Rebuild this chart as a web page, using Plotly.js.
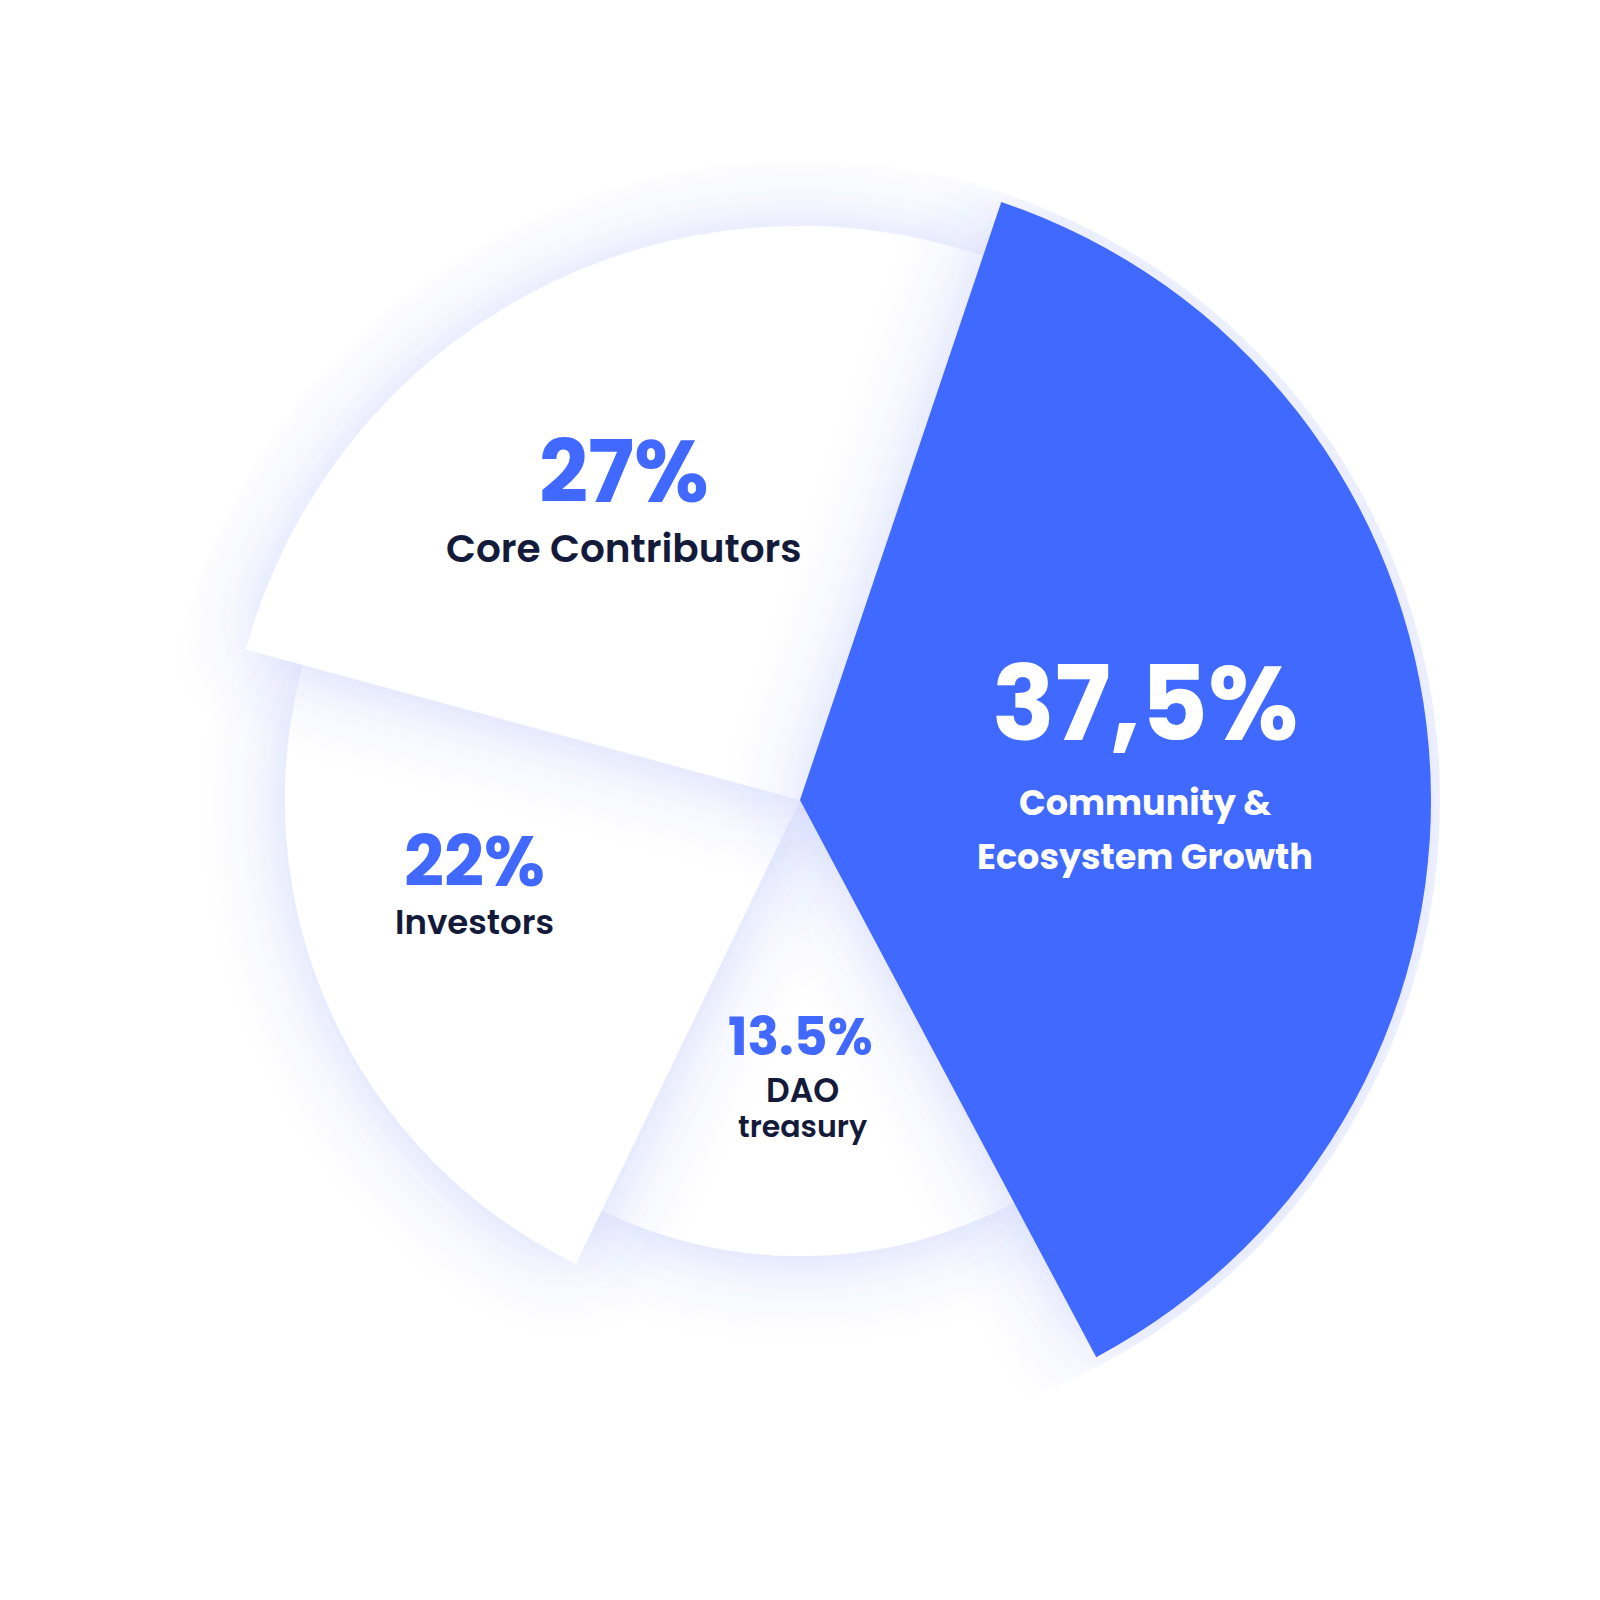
<!DOCTYPE html>
<html>
<head>
<meta charset="utf-8">
<script src="https://cdn.plot.ly/plotly-3.0.1.min.js"></script>
<style>
  html, body { margin: 0; padding: 0; background: #ffffff; }
  #chart { width: 1600px; height: 1600px; }
</style>
</head>
<body>
<div id="chart"></div>
<script>
// ---- data ----
const categories  = ['Community & Ecosystem Growth', 'DAO treasury', 'Investors', 'Core Contributors'];
const shareLabels = ['37,5%', '13.5%', '22%', '27%'];
const shares      = [37.5, 13.5, 22, 27];
const radii       = [631, 456, 515, 574];       // slice radius (px scale)
const arcSpans    = [133.4, 53.8, 79.4, 93.4];  // angular span of each slice, degrees
const startAngle  = 18.6;                        // first slice edge, clockwise from top
const sliceColors = ['#4169ff', '#ffffff', '#ffffff', '#ffffff'];
const drawOrder   = [1, 2, 3, 0];                // bottom to top

// centre angle of each slice
const thetas = [];
let cum = startAngle;
arcSpans.forEach(s => { thetas.push(cum + s / 2); cum += s; });

const pick = arr => drawOrder.map(i => arr[i]);

const trace = {
  type: 'barpolar',
  r: pick(radii),
  theta: pick(thetas),
  width: pick(arcSpans),
  text: pick(categories),
  customdata: pick(shares),
  marker: { color: pick(sliceColors), line: { width: 0 } },
  hoverinfo: 'none',
  showlegend: false
};

const BLUE = '#4169ff', NAVY = '#141b3a';
const FONT = 'Poppins, Inter, "Open Sans", sans-serif';
function ann(text, px, py, size, color, weight) {
  return {
    text: text, xref: 'paper', yref: 'paper',
    x: px / 1600, y: 1 - py / 1600,
    xanchor: 'center', yanchor: 'middle', showarrow: false,
    font: { family: FONT, size: size, color: color, weight: weight }
  };
}

const annotations = [
  ann(shareLabels[3], 624, 472, 86, BLUE, 700),
  ann('Core Contributors', 624, 548, 39, NAVY, 600),
  ann(shareLabels[0], 1145, 704, 104, '#ffffff', 700),
  ann('Community &', 1145, 803, 35, '#ffffff', 700),
  ann('Ecosystem Growth', 1145, 856, 35, '#ffffff', 700),
  ann(shareLabels[2], 474, 862, 70, BLUE, 700),
  ann('Investors', 474, 922, 34, NAVY, 600),
  ann(shareLabels[1], 800, 1036, 52, BLUE, 700),
  ann('DAO', 802, 1090, 33, NAVY, 600),
  ann('treasury', 803, 1126, 30, NAVY, 600)
];

const layout = {
  width: 1600, height: 1600,
  margin: { l: 0, r: 0, t: 0, b: 0 },
  paper_bgcolor: 'rgba(0,0,0,0)',
  plot_bgcolor: 'rgba(0,0,0,0)',
  showlegend: false,
  polar: {
    domain: { x: [0.1, 0.9], y: [0.1, 0.9] },
    bgcolor: 'rgba(0,0,0,0)',
    radialaxis: { visible: false, range: [0, 640], showgrid: false, showline: false },
    angularaxis: { visible: false, direction: 'clockwise', rotation: 90, showgrid: false, showline: false, ticks: '' }
  },
  annotations: annotations
};

Plotly.newPlot('chart', [trace], layout, { staticPlot: true, displayModeBar: false }).then(gd => {
  const NS = 'http://www.w3.org/2000/svg';
  const svg = gd.querySelector('svg.main-svg');
  let defs = svg.querySelector('defs');
  if (!defs) { defs = document.createElementNS(NS, 'defs'); svg.insertBefore(defs, svg.firstChild); }
  const f = document.createElementNS(NS, 'filter');
  f.setAttribute('id', 'sliceGlow');
  f.setAttribute('filterUnits', 'userSpaceOnUse');
  f.setAttribute('x', '-2000'); f.setAttribute('y', '-2000');
  f.setAttribute('width', '6000'); f.setAttribute('height', '6000');
  const ds = document.createElementNS(NS, 'feDropShadow');
  ds.setAttribute('dx', '0'); ds.setAttribute('dy', '4');
  ds.setAttribute('stdDeviation', '40');
  ds.setAttribute('flood-color', '#3a5cf0');
  ds.setAttribute('flood-opacity', '0.24');
  f.appendChild(ds);
  defs.appendChild(f);
  gd.querySelectorAll('g.point').forEach(p => p.setAttribute('filter', 'url(#sliceGlow)'));
});
</script>
</body>
</html>
